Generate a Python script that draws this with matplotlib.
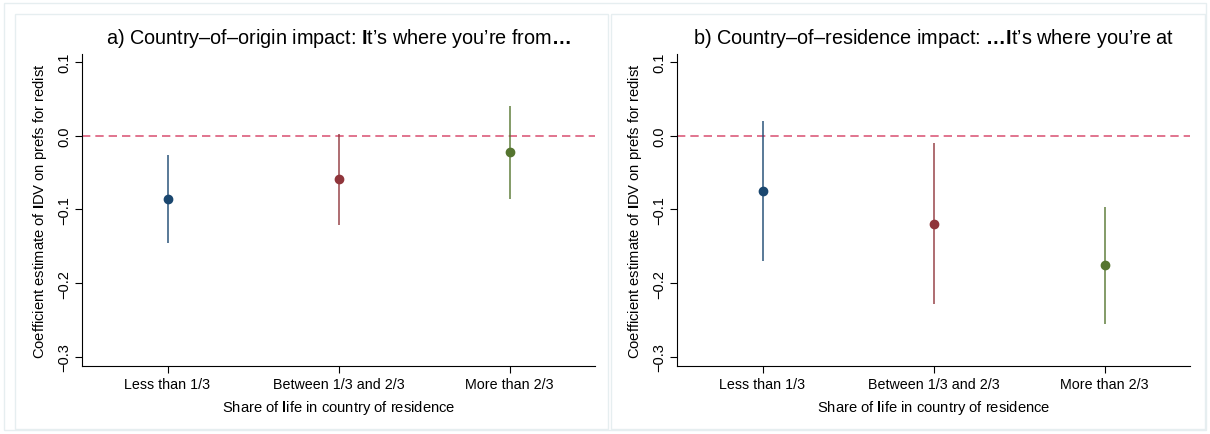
import numpy as np
import matplotlib
matplotlib.use("Agg")
import matplotlib.pyplot as plt
from matplotlib.patches import Rectangle

plt.rcParams['font.family'] = ['Liberation Sans', 'DejaVu Sans']
plt.rcParams['mathtext.fontset'] = 'custom'
plt.rcParams['mathtext.rm'] = 'Liberation Sans'
plt.rcParams['mathtext.bf'] = 'Liberation Sans:bold'

# share-of-life groups
groups = ["Less than 1/3", "Between 1/3 and 2/3", "More than 2/3"]
colors = ["#1a476f", "#90353b", "#55752f"]

# panel a: country of origin
origin_coef = [-0.086, -0.059, -0.022]
origin_lo = [-0.146, -0.121, -0.086]
origin_hi = [-0.026, 0.002, 0.040]

# panel b: country of residence
resid_coef = [-0.075, -0.120, -0.176]
resid_lo = [-0.170, -0.228, -0.256]
resid_hi = [0.020, -0.010, -0.097]

yticks = [-0.3, -0.2, -0.1, 0.0, 0.1]
ytick_labels = ["\u22120.3", "\u22120.2", "\u22120.1", "0.0", "0.1"]

titles = [r"a) Country–of–origin impact: $\mathbf{I}$t’s where you’re from$\mathbf{…}$",
          r"b) Country–of–residence impact: $\mathbf{…I}$t’s where you’re at"]
ylab = r"Coefficient estimate of $\mathbf{I}$DV on prefs for redist"
xlab = r"Share of $\mathbf{l}$ife in country of residence"

fig = plt.figure(figsize=(12.1, 4.35), dpi=100)
fig.patch.set_facecolor("white")

# light frames around the whole graph and each panel
frame_col = "#e6eef0"
fig.add_artist(Rectangle((4 / 1210, 4 / 435), 1202 / 1210, 427 / 435, transform=fig.transFigure,
                         fill=False, ec=frame_col, lw=1.0))
fig.add_artist(Rectangle((15 / 1210, 5 / 435), 593 / 1210, 415 / 435, transform=fig.transFigure,
                         fill=False, ec=frame_col, lw=1.0))
fig.add_artist(Rectangle((611 / 1210, 5 / 435), 594 / 1210, 415 / 435, transform=fig.transFigure,
                         fill=False, ec=frame_col, lw=1.0))

panels = [(origin_coef, origin_lo, origin_hi), (resid_coef, resid_lo, resid_hi)]
lefts = [82 / 1210, 677 / 1210]
x = np.arange(1, len(groups) + 1)

for i, (coef, lo, hi) in enumerate(panels):
    ax = fig.add_axes([lefts[i], 1 - 367 / 435, 513 / 1210, 312 / 435])
    ax.axhline(0, color="#dc5c7c", lw=1.2, dashes=(5, 3), zorder=1)
    for j in range(len(groups)):
        ax.vlines(x[j], lo[j], hi[j], color=colors[j], lw=1.2, alpha=0.85, zorder=2)
        ax.plot(x[j], coef[j], "o", color=colors[j], ms=6, zorder=3)
    ax.set_xlim(0.5, 3.5)
    ax.set_ylim(-0.3125, 0.111)
    ax.set_xticks(x)
    ax.set_xticklabels(groups, fontsize=10.3)
    ax.set_yticks(yticks)
    ax.set_yticklabels(ytick_labels, fontsize=10.5, rotation=90, va="center")
    ax.tick_params(length=5, width=0.8, color="black", pad=3)
    for s in ["top", "right"]:
        ax.spines[s].set_visible(False)
    for s in ["left", "bottom"]:
        ax.spines[s].set_linewidth(0.8)
    ax.set_ylabel(ylab, fontsize=10.6, labelpad=6)
    ax.set_xlabel(xlab, fontsize=10.6, labelpad=5)
    ax.set_title(titles[i], fontsize=14.3, pad=8)

fig.savefig("out.png", dpi=100)
